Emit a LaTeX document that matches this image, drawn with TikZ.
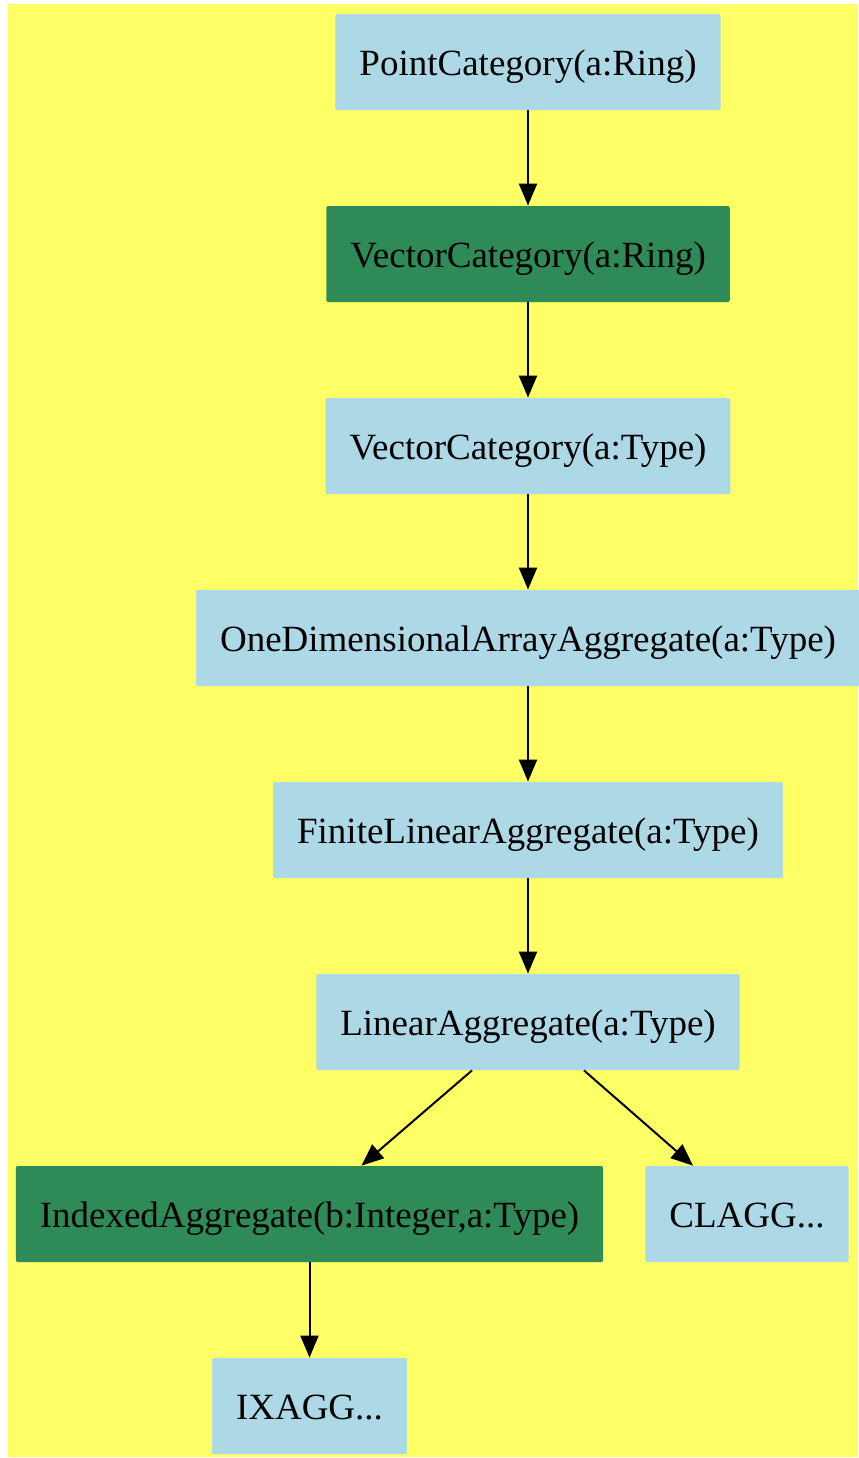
\documentclass[tikz,border=0pt]{standalone}
\usepackage{fontspec}
\setmainfont{Liberation Serif}
\usepackage{tikz}
\usetikzlibrary{positioning, arrows.meta, calc}
\definecolor{bgyellow}{HTML}{FFFF66}
\definecolor{boxblue}{HTML}{ADD8E6}
\definecolor{boxgreen}{HTML}{2E8B57}
\tikzset{
    category/.style={
        rectangle,
        fill=boxblue,
        minimum height=48pt,
        inner xsep=12pt,
        text height=14pt,
        text depth=1pt,
        align=center,
        font=\fontsize{18.5}{22}\selectfont,
        rounded corners=1pt
    },
    unfolded/.style={
        category,
        fill=boxgreen
    },
    arrow/.style={
        -{Triangle[length=11pt,width=9pt]},
        line width=1pt
    }
}

\begin{document}
\begin{tikzpicture}[node distance=96pt, auto]
    \useasboundingbox (0,0) rectangle (429pt,-729pt);
    \fill[bgyellow] (4pt,-2pt) rectangle (429pt,-728.5pt);
    \node[category] (point) at (264pt,-31pt) {PointCategory(a:Ring)};
    \node[unfolded, below of=point] (vecring) {VectorCategory(a:Ring)};
    \node[category, below of=vecring] (vectype) {VectorCategory(a:Type)};
    \node[category, below of=vectype] (onedim) {OneDimensionalArrayAggregate(a:Type)};
    \node[category, below of=onedim] (finite) {FiniteLinearAggregate(a:Type)};
    \node[category, below of=finite] (linear) {LinearAggregate(a:Type)};
    \node[unfolded, below of=linear, xshift=-109.25pt] (indexed) {IndexedAggregate(b:Integer,a:Type)};
    \node[category, below of=linear, xshift=109.5pt] (clagg) {CLAGG...};
    \node[category, below of=indexed] (ixagg) {IXAGG...};
    \draw[arrow] (point) -- (vecring);
    \draw[arrow] (vecring) -- (vectype);
    \draw[arrow] (vectype) -- (onedim);
    \draw[arrow] (onedim) -- (finite);
    \draw[arrow] (finite) -- (linear);
    \draw[arrow] ([xshift=-28pt]linear.south) -- ([xshift=26pt]indexed.north);
    \draw[arrow] ([xshift=28pt]linear.south) -- ([xshift=-27pt]clagg.north);
    \draw[arrow] (indexed) -- (ixagg);
\end{tikzpicture}
\end{document}
